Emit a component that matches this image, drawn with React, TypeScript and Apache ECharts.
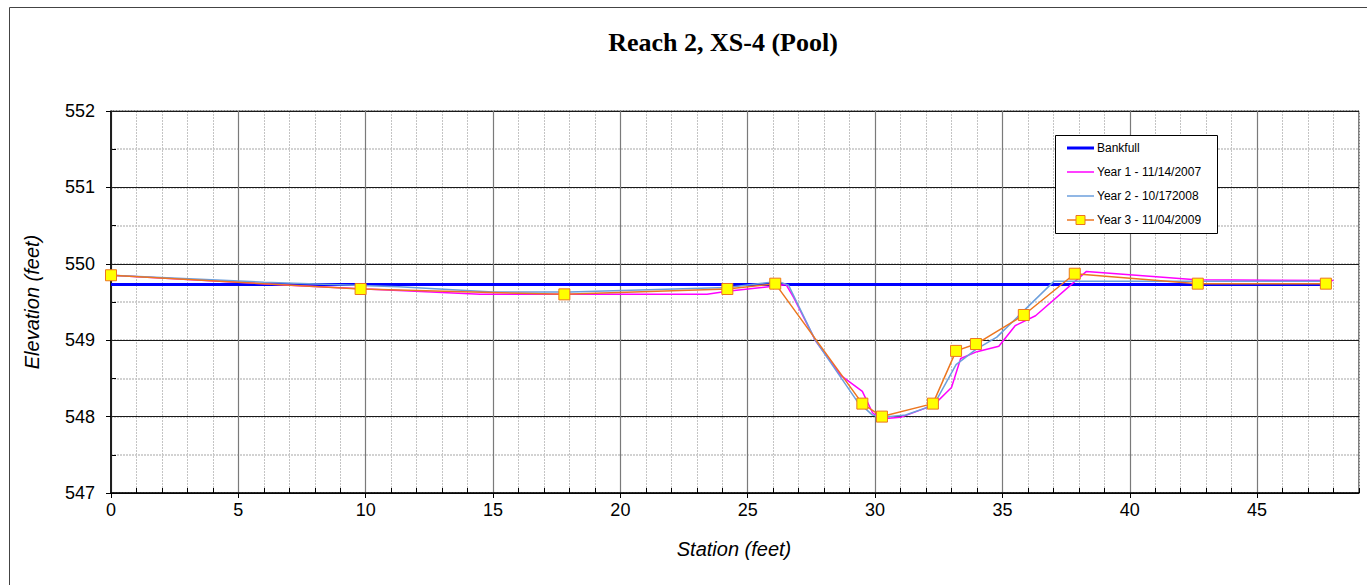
import React, { useEffect, useRef } from "react";
import * as echarts from "echarts";

const titleText = "Reach 2, XS-4 (Pool)";
const xTitle = "Station (feet)";
const yTitle = "Elevation (feet)";

const xMajorTicks = [0, 5, 10, 15, 20, 25, 30, 35, 40, 45];

const seriesNames = ["Bankfull", "Year 1 - 11/14/2007", "Year 2 - 10/172008", "Year 3 - 11/04/2009"];
const seriesColors = ["#0000ff", "#ff00ff", "#6c9fdc", "#ec7620"];

const bankfullStations = [0, 47.7];
const bankfullElev = [549.73, 549.73];

const year1Stations = [0, 7, 10, 14.5, 23.4, 24.2, 26.1, 26.5, 26.8, 27.65, 28.65, 29.5, 29.9, 30.2, 31.0, 32.3, 33.0, 33.36, 34.0, 34.86, 35.5, 36.3, 38.3, 42.6, 48.0];
const year1Elev = [549.85, 549.72, 549.67, 549.6, 549.6, 549.64, 549.71, 549.73, 549.56, 549.0, 548.54, 548.33, 548.05, 547.97, 547.99, 548.15, 548.38, 548.76, 548.85, 548.92, 549.19, 549.32, 549.9, 549.79, 549.78];

const year2Stations = [0, 6, 11.3, 15, 18, 24.2, 26.2, 26.6, 27.65, 29.3, 29.9, 30.3, 31.2, 32.3, 33.18, 33.96, 34.78, 37.02, 47.7];
const year2Elev = [549.85, 549.76, 549.7, 549.63, 549.63, 549.69, 549.77, 549.72, 549.0, 548.2, 548.02, 547.99, 548.02, 548.15, 548.68, 548.88, 549.04, 549.77, 549.77];

const year3Stations = [0, 9.8, 17.8, 24.2, 26.08, 29.5, 30.27, 32.27, 33.18, 33.96, 35.84, 37.84, 42.67, 47.7];
const year3Elev = [549.85, 549.67, 549.6, 549.67, 549.74, 548.17, 548.0, 548.17, 548.86, 548.95, 549.33, 549.87, 549.74, 549.74];

const zip = (xs: number[], ys: number[]) => xs.map((x, i) => [x, ys[i]]);

function legendGraphics() {
  const left = 1055;
  const top = 135;
  const els: any[] = [
    {
      type: "rect",
      z: 100,
      zlevel: 1,
      shape: { x: left + 0.5, y: top + 0.5, width: 162, height: 98 },
      style: { fill: "#fff", stroke: "#000", lineWidth: 1 },
    },
  ];
  seriesNames.forEach((name, i) => {
    const cy = top + 13 + i * 24;
    els.push({
      type: "line",
      z: 101,
      zlevel: 1,
      shape: { x1: left + 12, y1: cy, x2: left + 39, y2: cy },
      style: { stroke: seriesColors[i], lineWidth: i === 0 ? 3 : 1.5 },
    });
    if (i === 3) {
      els.push({
        type: "rect",
        z: 102,
        zlevel: 1,
        shape: { x: left + 21, y: cy - 4.5, width: 9, height: 9 },
        style: { fill: "#ffff00", stroke: seriesColors[i], lineWidth: 1 },
      });
    }
    els.push({
      type: "text",
      z: 101,
      zlevel: 1,
      x: left + 42,
      y: cy,
      style: {
        text: name,
        font: "12px 'Liberation Sans', Arial, sans-serif",
        fill: "#000",
        textAlign: "left",
        textVerticalAlign: "middle",
      },
    });
  });
  return els;
}

export default function App() {
  const ref = useRef<HTMLDivElement>(null);
  useEffect(() => {
    if (!ref.current) return;
    const chart = echarts.init(ref.current, undefined, { renderer: "svg" });
    const font = "Liberation Sans, Arial, sans-serif";
    chart.setOption({
      animation: false,
      backgroundColor: "#ffffff",
      grid: {
        left: 111,
        right: 8,
        top: 111,
        bottom: 92,
        show: true,
        borderColor: "#000",
        borderWidth: 1,
        backgroundColor: "transparent",
      },
      graphic: [
        {
          type: "rect",
          shape: { x: 9.5, y: 7.5, width: 1400, height: 700 },
          style: { fill: "none", stroke: "#444", lineWidth: 1 },
          z: -10,
          silent: true,
        },
        {
          type: "text",
          x: 723,
          y: 42,
          style: {
            text: titleText,
            font: "bold 26px 'Liberation Serif', 'Times New Roman', serif",
            fill: "#000",
            textAlign: "center",
            textVerticalAlign: "middle",
          },
        },
        {
          type: "text",
          x: 734,
          y: 549,
          style: {
            text: xTitle,
            font: "italic 20px 'Liberation Sans', Arial, sans-serif",
            fill: "#000",
            textAlign: "center",
            textVerticalAlign: "middle",
          },
        },
        {
          type: "text",
          x: 32,
          y: 302,
          rotation: Math.PI / 2,
          style: {
            text: yTitle,
            font: "italic 20px 'Liberation Sans', Arial, sans-serif",
            fill: "#000",
            textAlign: "center",
            textVerticalAlign: "middle",
          },
        },
        ...legendGraphics(),
      ],
      xAxis: [
        {
          type: "value",
          min: 0,
          max: 49,
          interval: 5,
          z: 2,
          axisLine: { show: true, onZero: false, lineStyle: { color: "#000", width: 1.5 } },
          axisTick: { show: true, length: 5, customValues: xMajorTicks, lineStyle: { color: "#000" } },
          axisLabel: {
            customValues: xMajorTicks,
            margin: 8,
            fontFamily: font,
            fontSize: 18,
            color: "#000",
          },
          splitLine: { show: true, lineStyle: { color: "#7a7a7a", width: 1.2 } },
        },
        {
          type: "value",
          min: 0,
          max: 49,
          interval: 1,
          position: "bottom",
          z: 1,
          axisLine: { show: false },
          axisTick: { show: true, inside: true, length: 5, lineStyle: { color: "#000" } },
          axisLabel: { show: false },
          splitLine: { show: true, lineStyle: { color: "#c4c4c4", width: 1, type: [2, 1] } },
        },
      ],
      yAxis: [
        {
          type: "value",
          min: 547,
          max: 552,
          interval: 1,
          z: 2,
          axisLine: { show: true, onZero: false, lineStyle: { color: "#000", width: 1.5 } },
          axisTick: { show: true, length: 5, lineStyle: { color: "#000" } },
          axisLabel: { margin: 16, fontFamily: font, fontSize: 18, color: "#000" },
          splitLine: { show: true, lineStyle: { color: "#1a1a1a", width: 1.2 } },
        },
        {
          type: "value",
          min: 547,
          max: 552,
          interval: 0.5,
          position: "left",
          z: 1,
          axisLine: { show: false },
          axisTick: { show: true, inside: true, length: 5, lineStyle: { color: "#000" } },
          axisLabel: { show: false },
          splitLine: { show: true, lineStyle: { color: "#c4c4c4", width: 1.5, type: [2, 1] } },
        },
      ],
      series: [
        {
          name: seriesNames[0],
          type: "line",
          xAxisIndex: 0,
          yAxisIndex: 0,
          data: zip(bankfullStations, bankfullElev),
          symbol: "none",
          lineStyle: { color: seriesColors[0], width: 3 },
          itemStyle: { color: seriesColors[0] },
          z: 3,
        },
        {
          name: seriesNames[1],
          type: "line",
          xAxisIndex: 0,
          yAxisIndex: 0,
          data: zip(year1Stations, year1Elev),
          symbol: "none",
          lineStyle: { color: seriesColors[1], width: 1.5 },
          itemStyle: { color: seriesColors[1] },
          z: 4,
        },
        {
          name: seriesNames[2],
          type: "line",
          xAxisIndex: 0,
          yAxisIndex: 0,
          data: zip(year2Stations, year2Elev),
          symbol: "none",
          lineStyle: { color: seriesColors[2], width: 1.5 },
          itemStyle: { color: seriesColors[2] },
          z: 5,
        },
        {
          name: seriesNames[3],
          type: "line",
          xAxisIndex: 0,
          yAxisIndex: 0,
          data: zip(year3Stations, year3Elev),
          symbol: "rect",
          symbolSize: 11,
          showAllSymbol: true,
          lineStyle: { color: seriesColors[3], width: 1.5 },
          itemStyle: { color: "#ffff00", borderColor: seriesColors[3], borderWidth: 1 },
          z: 6,
        },
      ],
    });
    return () => chart.dispose();
  }, []);
  return (
    <div
      ref={ref}
      style={{ position: "fixed", left: 0, top: 0, width: 1367, height: 585, background: "#fff" }}
    />
  );
}
